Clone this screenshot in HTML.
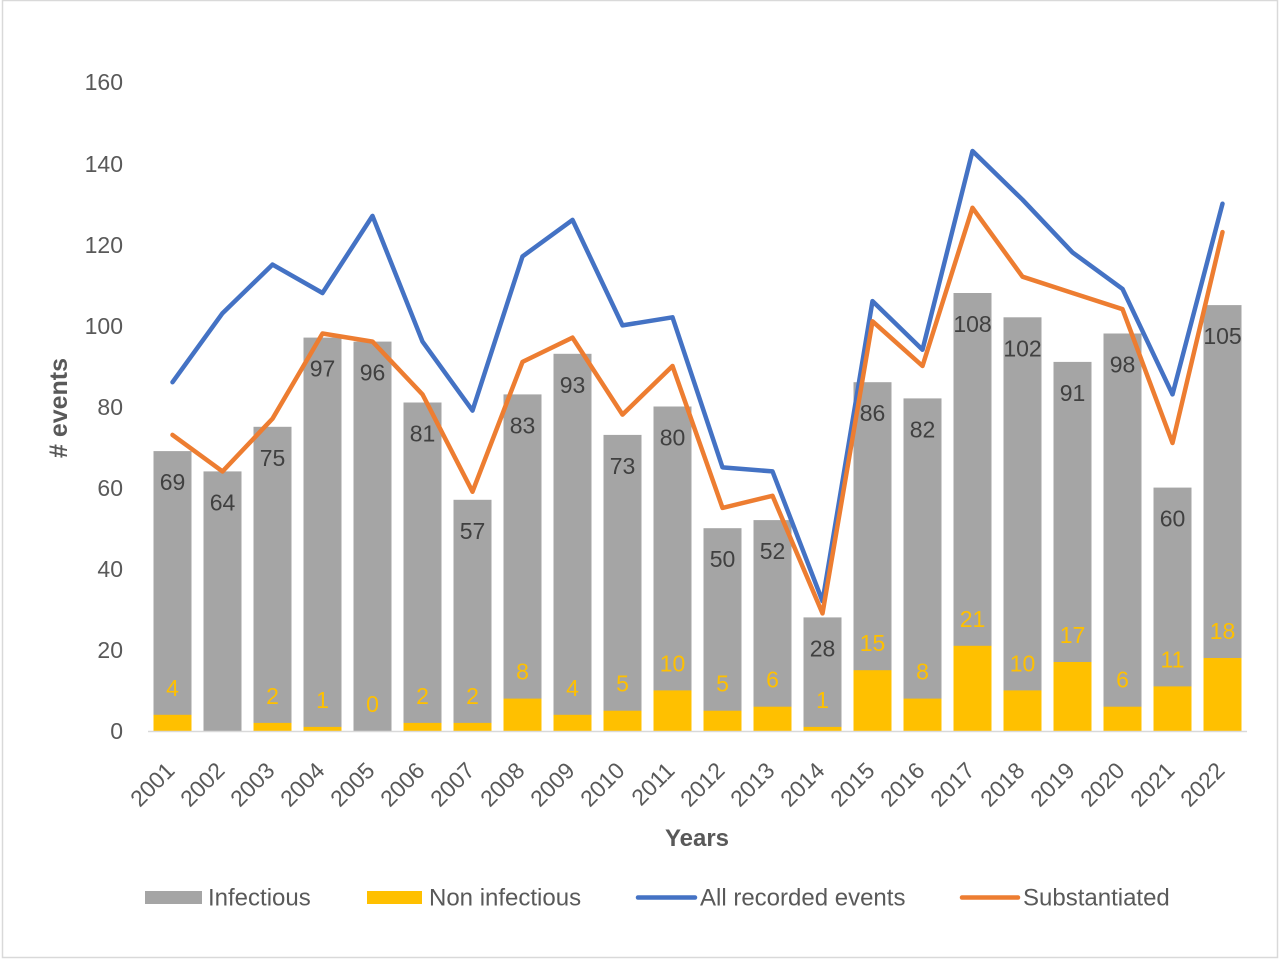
<!DOCTYPE html>
<html>
<head>
<meta charset="utf-8">
<style>
html,body{margin:0;padding:0;background:#fff;}
svg{display:block;}
text{font-family:"Liberation Sans",Arial,sans-serif;}
</style>
</head>
<body>
<svg width="1280" height="960" viewBox="0 0 1280 960" xmlns="http://www.w3.org/2000/svg">
<rect x="0" y="0" width="1280" height="960" fill="#fff"/>
<rect x="2.5" y="0.5" width="1275" height="957" fill="none" stroke="#D9D9D9" stroke-width="1.5"/>

<!-- y tick labels -->
<g font-size="23" fill="#595959" text-anchor="end">
<text x="123" y="739">0</text>
<text x="123" y="658">20</text>
<text x="123" y="577">40</text>
<text x="123" y="496">60</text>
<text x="123" y="415">80</text>
<text x="123" y="334">100</text>
<text x="123" y="253">120</text>
<text x="123" y="172">140</text>
<text x="123" y="90">160</text>
</g>

<!-- gray bars (Infectious) -->
<g fill="#A5A5A5">
<rect x="153.5" y="451.1" width="38" height="279.9"/>
<rect x="203.5" y="471.4" width="38" height="259.6"/>
<rect x="253.5" y="426.8" width="38" height="304.2"/>
<rect x="303.5" y="337.6" width="38" height="393.4"/>
<rect x="353.5" y="341.6" width="38" height="389.4"/>
<rect x="403.5" y="402.5" width="38" height="328.5"/>
<rect x="453.5" y="499.8" width="38" height="231.2"/>
<rect x="503.5" y="394.4" width="38" height="336.6"/>
<rect x="553.5" y="353.8" width="38" height="377.2"/>
<rect x="603.5" y="434.9" width="38" height="296.1"/>
<rect x="653.5" y="406.5" width="38" height="324.5"/>
<rect x="703.5" y="528.2" width="38" height="202.8"/>
<rect x="753.5" y="520.1" width="38" height="210.9"/>
<rect x="803.5" y="617.4" width="38" height="113.6"/>
<rect x="853.5" y="382.2" width="38" height="348.8"/>
<rect x="903.5" y="398.4" width="38" height="332.6"/>
<rect x="953.5" y="293.0" width="38" height="438.0"/>
<rect x="1003.5" y="317.3" width="38" height="413.7"/>
<rect x="1053.5" y="361.9" width="38" height="369.1"/>
<rect x="1103.5" y="333.5" width="38" height="397.5"/>
<rect x="1153.5" y="487.6" width="38" height="243.4"/>
<rect x="1203.5" y="305.1" width="38" height="425.9"/>
</g>

<!-- yellow bars (Non infectious) -->
<g fill="#FFC000">
<rect x="153.5" y="714.8" width="38" height="16.2"/>
<rect x="253.5" y="722.9" width="38" height="8.1"/>
<rect x="303.5" y="726.9" width="38" height="4.1"/>
<rect x="403.5" y="722.9" width="38" height="8.1"/>
<rect x="453.5" y="722.9" width="38" height="8.1"/>
<rect x="503.5" y="698.6" width="38" height="32.4"/>
<rect x="553.5" y="714.8" width="38" height="16.2"/>
<rect x="603.5" y="710.7" width="38" height="20.3"/>
<rect x="653.5" y="690.4" width="38" height="40.6"/>
<rect x="703.5" y="710.7" width="38" height="20.3"/>
<rect x="753.5" y="706.7" width="38" height="24.3"/>
<rect x="803.5" y="726.9" width="38" height="4.1"/>
<rect x="853.5" y="670.2" width="38" height="60.8"/>
<rect x="903.5" y="698.6" width="38" height="32.4"/>
<rect x="953.5" y="645.8" width="38" height="85.2"/>
<rect x="1003.5" y="690.4" width="38" height="40.6"/>
<rect x="1053.5" y="662.0" width="38" height="69.0"/>
<rect x="1103.5" y="706.7" width="38" height="24.3"/>
<rect x="1153.5" y="686.4" width="38" height="44.6"/>
<rect x="1203.5" y="658.0" width="38" height="73.0"/>
</g>

<!-- axis line -->
<line x1="148" y1="731.5" x2="1247" y2="731.5" stroke="#D9D9D9" stroke-width="1.5"/>

<!-- lines -->
<polyline fill="none" stroke="#4472C4" stroke-width="4.5" stroke-linejoin="round" stroke-linecap="round"
points="172.5,382.2 222.5,313.2 272.5,264.6 322.5,293.0 372.5,215.9 422.5,341.6 472.5,410.6 522.5,256.4 572.5,219.9 622.5,325.4 672.5,317.3 722.5,467.4 772.5,471.4 822.5,601.2 872.5,301.1 922.5,349.7 972.5,151.0 1022.5,199.7 1072.5,252.4 1122.5,288.9 1172.5,394.4 1222.5,203.7"/>
<polyline fill="none" stroke="#ED7D31" stroke-width="4.5" stroke-linejoin="round" stroke-linecap="round"
points="172.5,434.9 222.5,471.4 272.5,418.7 322.5,333.5 372.5,341.6 422.5,394.4 472.5,491.7 522.5,361.9 572.5,337.6 622.5,414.6 672.5,366.0 722.5,507.9 772.5,495.8 822.5,613.4 872.5,321.3 922.5,366.0 972.5,207.8 1022.5,276.7 1072.5,293.0 1122.5,309.2 1172.5,443.0 1222.5,232.1"/>

<!-- gray labels -->
<g font-size="23" fill="#404040" text-anchor="middle">
<text x="172.5" y="490.1">69</text>
<text x="222.5" y="510.4">64</text>
<text x="272.5" y="465.8">75</text>
<text x="322.5" y="376.6">97</text>
<text x="372.5" y="380.6">96</text>
<text x="422.5" y="441.5">81</text>
<text x="472.5" y="538.8">57</text>
<text x="522.5" y="433.4">83</text>
<text x="572.5" y="392.8">93</text>
<text x="622.5" y="473.9">73</text>
<text x="672.5" y="445.5">80</text>
<text x="722.5" y="567.2">50</text>
<text x="772.5" y="559.1">52</text>
<text x="822.5" y="656.4">28</text>
<text x="872.5" y="421.2">86</text>
<text x="922.5" y="437.4">82</text>
<text x="972.5" y="332.0">108</text>
<text x="1022.5" y="356.3">102</text>
<text x="1072.5" y="400.9">91</text>
<text x="1122.5" y="372.5">98</text>
<text x="1172.5" y="526.6">60</text>
<text x="1222.5" y="344.1">105</text>
</g>

<!-- yellow labels -->
<g font-size="23" fill="#FFC000" text-anchor="middle">
<text x="172.5" y="695.8">4</text>
<text x="272.5" y="703.9">2</text>
<text x="322.5" y="707.9">1</text>
<text x="372.5" y="712.0">0</text>
<text x="422.5" y="703.9">2</text>
<text x="472.5" y="703.9">2</text>
<text x="522.5" y="679.6">8</text>
<text x="572.5" y="695.8">4</text>
<text x="622.5" y="691.7">5</text>
<text x="672.5" y="671.4">10</text>
<text x="722.5" y="691.7">5</text>
<text x="772.5" y="687.7">6</text>
<text x="822.5" y="707.9">1</text>
<text x="872.5" y="651.2">15</text>
<text x="922.5" y="679.6">8</text>
<text x="972.5" y="626.8">21</text>
<text x="1022.5" y="671.4">10</text>
<text x="1072.5" y="643.0">17</text>
<text x="1122.5" y="687.7">6</text>
<text x="1172.5" y="667.4">11</text>
<text x="1222.5" y="639.0">18</text>
</g>

<!-- x tick labels -->
<g font-size="23" fill="#595959" text-anchor="end">
<text transform="translate(176,772) rotate(-45)">2001</text>
<text transform="translate(226,772) rotate(-45)">2002</text>
<text transform="translate(276,772) rotate(-45)">2003</text>
<text transform="translate(326,772) rotate(-45)">2004</text>
<text transform="translate(376,772) rotate(-45)">2005</text>
<text transform="translate(426,772) rotate(-45)">2006</text>
<text transform="translate(476,772) rotate(-45)">2007</text>
<text transform="translate(526,772) rotate(-45)">2008</text>
<text transform="translate(576,772) rotate(-45)">2009</text>
<text transform="translate(626,772) rotate(-45)">2010</text>
<text transform="translate(676,772) rotate(-45)">2011</text>
<text transform="translate(726,772) rotate(-45)">2012</text>
<text transform="translate(776,772) rotate(-45)">2013</text>
<text transform="translate(826,772) rotate(-45)">2014</text>
<text transform="translate(876,772) rotate(-45)">2015</text>
<text transform="translate(926,772) rotate(-45)">2016</text>
<text transform="translate(976,772) rotate(-45)">2017</text>
<text transform="translate(1026,772) rotate(-45)">2018</text>
<text transform="translate(1076,772) rotate(-45)">2019</text>
<text transform="translate(1126,772) rotate(-45)">2020</text>
<text transform="translate(1176,772) rotate(-45)">2021</text>
<text transform="translate(1226,772) rotate(-45)">2022</text>
</g>

<!-- axis titles -->
<text x="697" y="846" font-size="24" font-weight="bold" fill="#595959" text-anchor="middle">Years</text>
<text transform="translate(67,408) rotate(-90)" font-size="25" font-weight="bold" fill="#595959" text-anchor="middle" xml:space="preserve"># events</text>

<!-- legend -->
<rect x="145" y="891" width="57" height="13" fill="#A5A5A5"/>
<text x="208" y="905.5" font-size="24" fill="#595959">Infectious</text>
<rect x="367" y="891" width="55" height="13" fill="#FFC000"/>
<text x="429" y="905.5" font-size="24" fill="#595959">Non infectious</text>
<line x1="638" y1="897.5" x2="695" y2="897.5" stroke="#4472C4" stroke-width="4.5" stroke-linecap="round"/>
<text x="700" y="905.5" font-size="24" fill="#595959">All recorded events</text>
<line x1="962" y1="897.5" x2="1018" y2="897.5" stroke="#ED7D31" stroke-width="4.5" stroke-linecap="round"/>
<text x="1023" y="905.5" font-size="24" fill="#595959">Substantiated</text>
</svg>
</body>
</html>
